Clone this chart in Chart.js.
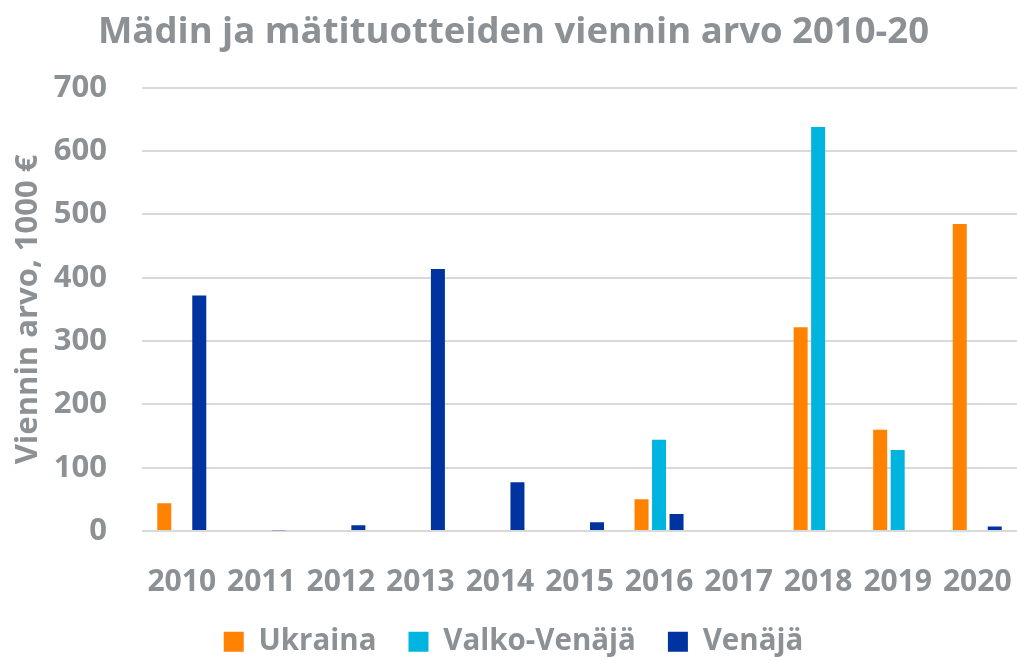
<!DOCTYPE html>
<html>
<head>
<meta charset="utf-8">
<script src="https://cdn.jsdelivr.net/npm/chart.js@4/dist/chart.umd.min.js"></script>
<style>
html,body{margin:0;padding:0;background:#fff;}
#wrap{width:1017px;height:660px;}
</style>
</head>
<body>
<div id="wrap"><canvas id="c" width="1017" height="660"></canvas></div>
<script>
const categories = ["2010","2011","2012","2013","2014","2015","2016","2017","2018","2019","2020"];
const ukraina     = [44, null, null, null, null, null, 50, null, 322, 160, 485];
const valkoVenaja = [null, null, null, null, null, null, 144, null, 638, 128, null];
const venaja      = [372, 1, 9, 414, 77, 14, 27, null, null, null, 7];
const yTicks = [0,100,200,300,400,500,600,700];

const grey = '#8b9194';
const fam = '"Open Sans", "Noto Sans", sans-serif';

new Chart(document.getElementById('c'), {
  type: 'bar',
  data: {
    labels: categories,
    datasets: [
      {label: 'Ukraina', data: ukraina, backgroundColor: '#ff8200'},
      {label: 'Valko-Venäjä', data: valkoVenaja, backgroundColor: '#00b4e0'},
      {label: 'Venäjä', data: venaja, backgroundColor: '#0033a0'}
    ]
  },
  options: {
    responsive: false,
    animation: false,
    devicePixelRatio: 1,
    layout: {padding: {left: 10, right: 0, top: 11, bottom: 0}},
    datasets: {bar: {categoryPercentage: 0.66, barPercentage: 0.8}},
    plugins: {
      title: {
        display: true,
        text: 'Mädin ja mätituotteiden viennin arvo 2010-20',
        color: grey,
        font: {family: fam, size: 36.5, weight: 'bold'},
        padding: {top: 0, bottom: 33}
      },
      legend: {
        position: 'bottom',
        maxHeight: 65,
        labels: {
          color: grey,
          font: {family: fam, size: 29.5, weight: 'bold'},
          boxWidth: 20,
          boxHeight: 20,
          padding: 32,
          useBorderRadius: false
        }
      },
      tooltip: {enabled: false}
    },
    scales: {
      x: {
        afterFit: (axis) => { axis.height = 64; },
        grid: {display: true, drawOnChartArea: false, drawTicks: true, tickLength: 30, tickColor: 'rgba(0,0,0,0)'},
        border: {display: false},
        ticks: {color: grey, font: {family: fam, size: 30, weight: 'bold'}, padding: 3, maxRotation: 0, autoSkip: false}
      },
      y: {
        min: 0, max: 700,
        afterBuildTicks: (axis) => { axis.ticks = yTicks.map(v => ({value: v})); },
        afterFit: (axis) => { axis.width = 132; },
        grid: {color: '#d9d9d9', lineWidth: 2, drawTicks: false},
        border: {display: false},
        ticks: {color: grey, font: {family: fam, size: 31, weight: 'bold'}, padding: 35},
        title: {display: true, text: 'Viennin arvo, 1000 €', color: grey, font: {family: fam, size: 31, weight: 'bold'}, padding: {top: 0, bottom: 0}}
      }
    }
  }
});
</script>
</body>
</html>
